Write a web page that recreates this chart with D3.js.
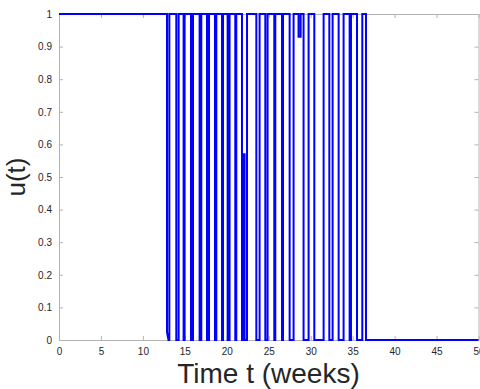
<!DOCTYPE html>
<html>
<head>
<meta charset="utf-8">
<script src="https://cdn.jsdelivr.net/npm/d3@7"></script>
<style>
  html, body { margin: 0; padding: 0; background: #fff; }
  svg { display: block; }
  text { font-family: "Liberation Sans", Arial, Helvetica, sans-serif; }
</style>
</head>
<body>
<svg id="chart" width="480" height="389"></svg>
<script>
// Control signal u(t): breakpoints of the piecewise-constant path
const timePts = [
  0, 12.87, 12.87, 13.05, 13.15, 13.15, 13.98, 13.98, 14.26, 14.26, 14.85, 14.85,
  14.97, 14.97, 15.73, 15.73, 15.97, 15.97, 16.76, 16.76, 16.96, 16.96, 17.64, 17.64,
  17.88, 17.88, 18.59, 18.59, 18.75, 18.75, 19.43, 19.43, 19.55, 19.55, 20.10, 20.10,
  20.33, 20.33, 21.01, 21.01, 21.13, 21.13, 21.81, 21.81, 22.02, 22.02, 22.12, 22.12,
  22.41, 22.41, 23.52, 23.52, 23.91, 23.91, 24.59, 24.59, 24.86, 24.86, 25.66, 25.66,
  25.78, 25.78, 26.58, 26.58, 26.70, 26.70, 27.49, 27.49, 27.96, 27.96, 28.55, 28.55,
  28.80, 28.80, 29.15, 29.15, 29.75, 29.75, 30.43, 30.43, 31.54, 31.54, 32.22, 32.22,
  32.61, 32.61, 33.33, 33.33, 33.92, 33.92, 34.64, 34.64, 34.80, 34.80, 35.52, 35.52,
  36.15, 36.15, 36.59, 36.59, 50
];
const uPts = [
  1, 1, 0.025, 0, 0, 1, 1, 0, 0, 1, 1, 0,
  0, 1, 1, 0, 0, 1, 1, 0, 0, 1, 1, 0,
  0, 1, 1, 0, 0, 1, 1, 0, 0, 1, 1, 0,
  0, 1, 1, 0, 0, 1, 1, 0, 0, 0.57, 0.57, 0,
  0, 1, 1, 0, 0, 1, 1, 0, 0, 1, 1, 0,
  0, 1, 1, 0, 0, 1, 1, 0, 0, 1, 1, 0.93,
  0.93, 1, 1, 0, 0, 1, 1, 0, 0, 1, 1, 0,
  0, 1, 1, 0, 0, 1, 1, 0, 0, 1, 1, 0,
  0, 1, 1, 0, 0
];

const xTicks = [0, 5, 10, 15, 20, 25, 30, 35, 40, 45, 50];
const yTicks = [0, 0.1, 0.2, 0.3, 0.4, 0.5, 0.6, 0.7, 0.8, 0.9, 1];

const xLabel = "Time t (weeks)";
const yLabel = "u(t)";

const svg = d3.select("#chart");
const plotLeft = 59, plotRight = 478.5, plotTop = 14, plotBottom = 340;

const x = d3.scaleLinear().domain([0, 50]).range([plotLeft, plotRight]);
const y = d3.scaleLinear().domain([0, 1]).range([plotBottom, plotTop]);

const axisColor = "#b3b3b3";
const labelColor = "#262626";

// Bottom axis with inward ticks
const gx = svg.append("g").attr("transform", `translate(0,${plotBottom})`)
  .call(d3.axisBottom(x).tickValues(xTicks).tickSizeInner(-4).tickSizeOuter(0)
    .tickPadding(8).tickFormat(d3.format("d")));
// Left axis with inward ticks
const gy = svg.append("g").attr("transform", `translate(${plotLeft},0)`)
  .call(d3.axisLeft(y).tickValues(yTicks).tickSizeInner(-4).tickSizeOuter(0)
    .tickPadding(7).tickFormat(d => d === 0 || d === 1 ? d3.format("d")(d) : d3.format(".1f")(d)));
// Top and right box edges with inward ticks
const gt = svg.append("g").attr("transform", `translate(0,${plotTop})`)
  .call(d3.axisTop(x).tickValues(xTicks).tickSizeInner(-4).tickSizeOuter(0).tickFormat(""));
const gr = svg.append("g").attr("transform", `translate(${plotRight},0)`)
  .call(d3.axisRight(y).tickValues(yTicks).tickSizeInner(-4).tickSizeOuter(0).tickFormat(""));

[gx, gy, gt, gr].forEach(g => {
  g.select(".domain").attr("stroke", axisColor).attr("stroke-width", 1);
  g.selectAll(".tick line").attr("stroke", axisColor);
  g.selectAll(".tick text").attr("fill", labelColor)
    .style("font-family", "'Liberation Sans', Arial, Helvetica, sans-serif")
    .style("font-size", "10px");
});

// Signal path
const pts = timePts.map((t, i) => [t, uPts[i]]);
const line = d3.line().x(d => x(d[0])).y(d => y(d[1]));
svg.append("path")
  .datum(pts)
  .attr("d", line)
  .attr("fill", "none")
  .attr("stroke", "#0000ff")
  .attr("stroke-width", 2)
  .attr("stroke-linejoin", "miter");

// Axis titles
svg.append("text")
  .attr("x", 268.5)
  .attr("y", 383)
  .attr("text-anchor", "middle")
  .attr("fill", labelColor)
  .style("font-size", "28px")
  .text(xLabel);

svg.append("text")
  .attr("transform", `translate(25,${(plotTop + plotBottom) / 2}) rotate(-90)`)
  .attr("text-anchor", "middle")
  .attr("fill", labelColor)
  .style("font-size", "26px")
  .text(yLabel);
</script>
</body>
</html>
